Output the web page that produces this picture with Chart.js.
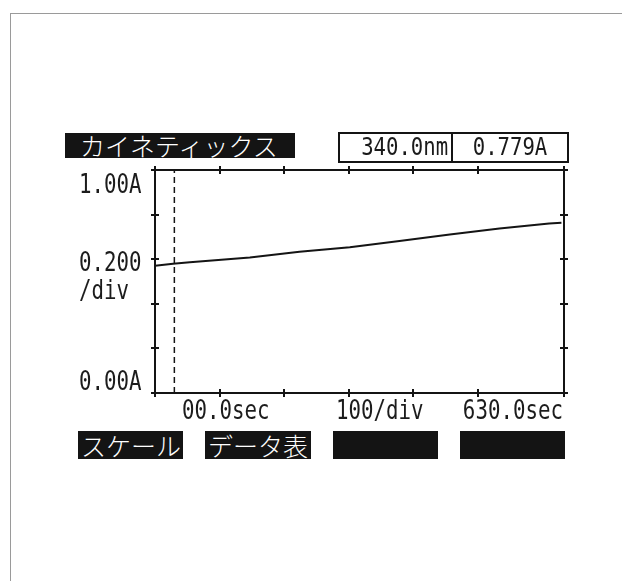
<!DOCTYPE html>
<html>
<head>
<meta charset="utf-8">
<script src="https://cdn.jsdelivr.net/npm/chart.js@4.4.1/dist/chart.umd.min.js"></script>
<style>
  html, body { margin: 0; padding: 0; background: #fff; }
  #wrap { position: relative; width: 622px; height: 581px; overflow: hidden; background: #fff; }
  #cv { position: absolute; left: 0; top: 0; }
  .frame { position: absolute; left: 10px; top: 13px; width: 640px; height: 600px;
           border-top: 1px solid #9a9a9a; border-left: 1px solid #9a9a9a; }
  .blk { position: absolute; background: #141414; color: #fff;
         font-family: "Noto Sans CJK JP", sans-serif; font-size: 25px; white-space: nowrap;
         overflow: hidden; font-weight: 300; }
  #title { left: 65px; top: 133px; width: 230px; height: 25px; line-height: 25px; padding-left: 15px; box-sizing: border-box; }
  .btn { top: 431px; height: 28px; line-height: 28px; }
  #valbox { position: absolute; left: 338px; top: 132px; width: 231px; height: 31px;
            border: 2px solid #141414; box-sizing: border-box; display: flex; }
  .cell { position: relative; height: 100%; font-family: "DejaVu Sans Mono", monospace;
          font-size: 24px; line-height: 27px; color: #1a1a1a; white-space: nowrap; }
  #c1 { width: 111px; border-right: 2px solid #141414; }
  #c2 { flex: 1; }
  .cell span { position: absolute; top: 0; }
  #c1 span { right: 3px; transform: scaleX(0.86); transform-origin: right center; }
  #c2 span { left: 50%; transform: translateX(-50%) scaleX(0.86); }
</style>
</head>
<body>
<div id="wrap">
  <div class="frame"></div>
  <canvas id="cv" width="622" height="581"></canvas>
  <div id="title" class="blk"></div>
  <div id="valbox"><div id="c1" class="cell"><span id="wl"></span></div><div id="c2" class="cell"><span id="rd"></span></div></div>
</div>
<script>
// ---- data ----
const timeSec    = [0,     28,    54,    147,   224,   302,   379,   457,   534,   611,   630];
const absorbance = [0.571, 0.580, 0.586, 0.608, 0.633, 0.654, 0.682, 0.711, 0.738, 0.760, 0.764];
const cursorTime = 30;
const xMin = 0, xMax = 634, xStep = 100;
const yMin = 0, yMax = 1.0, yStep = 0.2;
const yAxisLabels = ['1.00A', '0.200', '/div', '0.00A'];
const xAxisLabels = ['00.0sec', '100/div', '630.0sec'];
const titleText = 'カイネティックス';
const wavelengthText = '340.0nm';
const readingText = '0.779A';
const buttonLabels = ['スケール', 'データ表', '', ''];

// ---- html text ----
document.getElementById('title').textContent = titleText;
document.getElementById('wl').textContent = wavelengthText;
document.getElementById('rd').textContent = readingText;
const btnLefts = [78, 205, 333, 460], btnWidths = [105, 106, 105, 105];
const wrap = document.getElementById('wrap');
buttonLabels.forEach((t, i) => {
  const d = document.createElement('div');
  d.className = 'blk btn';
  d.style.left = btnLefts[i] + 'px';
  d.style.width = btnWidths[i] + 'px';
  d.style.paddingLeft = '3px';
  d.style.boxSizing = 'border-box';
  d.textContent = t;
  wrap.appendChild(d);
});

// ---- chart ----
const INK = '#141414';
function monoText(ctx, text, x, y, align) {
  ctx.save();
  ctx.font = '27px "DejaVu Sans Mono"';
  ctx.fillStyle = '#1c1c1c';
  ctx.textBaseline = 'alphabetic';
  const sx = 0.77;
  const w = ctx.measureText(text).width * sx;
  const left = align === 'right' ? x - w : x;
  ctx.translate(left, y);
  ctx.scale(sx, 1);
  ctx.textAlign = 'left';
  ctx.fillText(text, 0, 0);
  ctx.restore();
}

const overlay = {
  id: 'overlay',
  afterDraw(chart) {
    const { ctx, chartArea: a, scales } = chart;
    ctx.save();
    ctx.strokeStyle = INK;
    ctx.lineWidth = 2;
    const L = 4;
    ctx.beginPath();
    scales.x.ticks.forEach(t => {
      const px = Math.round(scales.x.getPixelForValue(t.value));
      ctx.moveTo(px, a.bottom); ctx.lineTo(px, a.bottom - L);
      ctx.moveTo(px, a.top); ctx.lineTo(px, a.top + L);
    });
    scales.y.ticks.forEach(t => {
      const py = Math.round(scales.y.getPixelForValue(t.value));
      ctx.moveTo(a.left, py); ctx.lineTo(a.left + L, py);
      ctx.moveTo(a.right, py); ctx.lineTo(a.right - L, py);
    });
    ctx.stroke();
    ctx.restore();

    const ys = scales.y;
    const lx = a.left - 76;
    monoText(ctx, yAxisLabels[0], lx, ys.getPixelForValue(yMax) + 23);
    monoText(ctx, yAxisLabels[1], lx, ys.getPixelForValue(0.6) + 12);
    monoText(ctx, yAxisLabels[2], lx, ys.getPixelForValue(0.6) + 40);
    monoText(ctx, yAxisLabels[3], lx, ys.getPixelForValue(yMin) - 3);

    const by = a.bottom + 26;
    monoText(ctx, xAxisLabels[0], a.left + 27, by);
    monoText(ctx, xAxisLabels[1], a.left + 181, by);
    monoText(ctx, xAxisLabels[2], a.right - 1, by, 'right');
  }
};

function axis(position, min, max, step) {
  return {
    type: 'linear', position, min, max,
    ticks: { display: false, stepSize: step },
    grid: { drawOnChartArea: false, drawTicks: true, tickLength: 4, color: INK, lineWidth: 2 },
    border: { display: true, color: INK, width: 2 }
  };
}

new Chart(document.getElementById('cv'), {
  type: 'line',
  data: {
    datasets: [
      {
        data: timeSec.map((t, i) => ({ x: t, y: absorbance[i] })),
        borderColor: INK, borderWidth: 2, pointRadius: 0, tension: 0,
        xAxisID: 'x', yAxisID: 'y'
      },
      {
        data: [{ x: cursorTime, y: yMin }, { x: cursorTime, y: yMax }],
        borderColor: INK, borderWidth: 1.5, borderDash: [6, 4], pointRadius: 0,
        xAxisID: 'x', yAxisID: 'y'
      }
    ]
  },
  options: {
    responsive: false, animation: false, devicePixelRatio: 1,
    layout: { padding: { left: 151, top: 166, right: 54, bottom: 184 } },
    plugins: { legend: { display: false }, tooltip: { enabled: false } },
    scales: {
      x: axis('bottom', xMin, xMax, xStep),
      x2: axis('top', xMin, xMax, xStep),
      y: axis('left', yMin, yMax, yStep),
      y2: axis('right', yMin, yMax, yStep)
    }
  },
  plugins: [overlay]
});
</script>
</body>
</html>
